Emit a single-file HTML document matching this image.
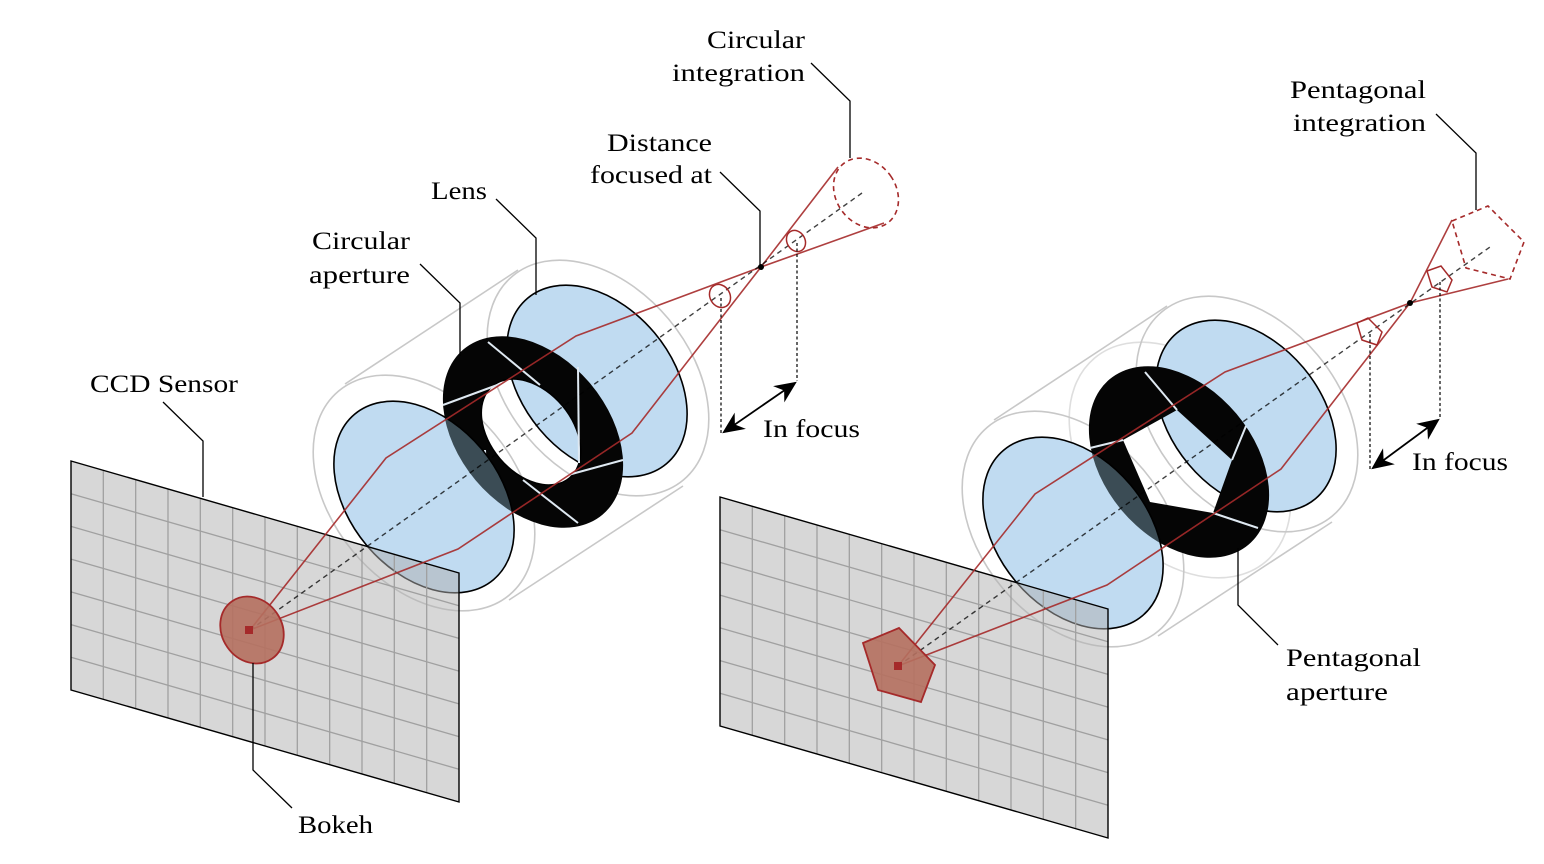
<!DOCTYPE html>
<html><head><meta charset="utf-8"><style>
html,body{margin:0;padding:0;background:#fff;}
svg{display:block;}
text{font-family:"Liberation Serif",serif;font-size:25px;fill:#000;}
</style></head><body>
<svg width="1544" height="864" viewBox="0 0 1544 864" xmlns="http://www.w3.org/2000/svg">
<defs>
<g id="sensor">
  <polygon points="0,0 1,0 1,1 0,1" fill="#b1b1b1" fill-opacity="0.51"/>
  <g stroke="#a0a0a0" stroke-width="1.3">
    <line x1="0.0833" y1="0" x2="0.0833" y2="1" vector-effect="non-scaling-stroke"/>
    <line x1="0.1667" y1="0" x2="0.1667" y2="1" vector-effect="non-scaling-stroke"/>
    <line x1="0.25" y1="0" x2="0.25" y2="1" vector-effect="non-scaling-stroke"/>
    <line x1="0.3333" y1="0" x2="0.3333" y2="1" vector-effect="non-scaling-stroke"/>
    <line x1="0.4167" y1="0" x2="0.4167" y2="1" vector-effect="non-scaling-stroke"/>
    <line x1="0.5" y1="0" x2="0.5" y2="1" vector-effect="non-scaling-stroke"/>
    <line x1="0.5833" y1="0" x2="0.5833" y2="1" vector-effect="non-scaling-stroke"/>
    <line x1="0.6667" y1="0" x2="0.6667" y2="1" vector-effect="non-scaling-stroke"/>
    <line x1="0.75" y1="0" x2="0.75" y2="1" vector-effect="non-scaling-stroke"/>
    <line x1="0.8333" y1="0" x2="0.8333" y2="1" vector-effect="non-scaling-stroke"/>
    <line x1="0.9167" y1="0" x2="0.9167" y2="1" vector-effect="non-scaling-stroke"/>
    <line x1="0" y1="0.1429" x2="1" y2="0.1429" vector-effect="non-scaling-stroke"/>
    <line x1="0" y1="0.2857" x2="1" y2="0.2857" vector-effect="non-scaling-stroke"/>
    <line x1="0" y1="0.4286" x2="1" y2="0.4286" vector-effect="non-scaling-stroke"/>
    <line x1="0" y1="0.5714" x2="1" y2="0.5714" vector-effect="non-scaling-stroke"/>
    <line x1="0" y1="0.7143" x2="1" y2="0.7143" vector-effect="non-scaling-stroke"/>
    <line x1="0" y1="0.8571" x2="1" y2="0.8571" vector-effect="non-scaling-stroke"/>
  </g>
  <polygon points="0,0 1,0 1,1 0,1" fill="none" stroke="#000" stroke-width="1.4" vector-effect="non-scaling-stroke"/>
</g>
<marker id="ah" viewBox="0 0 10 10" refX="9" refY="5" markerWidth="22" markerHeight="22" orient="auto-start-reverse" markerUnits="userSpaceOnUse">
  <path d="M0,0.5 L10,5 L0,9.5 L3,5 z" fill="#000"/>
</marker>
<clipPath id="cfL"><ellipse cx="424" cy="497" rx="75" ry="108" transform="rotate(-40 424 497)"/></clipPath>
<clipPath id="cfR"><ellipse cx="1073" cy="533" rx="75" ry="108" transform="rotate(-40 1073 533)"/></clipPath>
<mask id="mR" maskUnits="userSpaceOnUse" x="0" y="0" width="1544" height="864">
  <rect x="0" y="0" width="1544" height="864" fill="#000"/>
  <ellipse cx="1179" cy="462" rx="75" ry="108" transform="rotate(-40 1179 462)" fill="#fff"/>
  <polygon points="1123,440 1177,410 1232,460 1213,513 1150,502" fill="#000"/>
</mask>
<mask id="mL" maskUnits="userSpaceOnUse" x="0" y="0" width="1544" height="864">
  <rect x="0" y="0" width="1544" height="864" fill="#000"/>
  <ellipse cx="533" cy="432" rx="75" ry="108" transform="rotate(-40 533 432)" fill="#fff"/>
  <ellipse cx="531" cy="432" rx="41" ry="60" transform="rotate(-40 531 432)" fill="#000"/>
</mask>
</defs>

<!-- ============ LEFT ============ -->
<g fill="none" stroke="#c8c8c8" stroke-width="1.6">
  <ellipse cx="598" cy="378" rx="92" ry="133" transform="rotate(-40 598 378)"/>
  <ellipse cx="424" cy="493" rx="92" ry="133" transform="rotate(-40 424 493)"/>
  <line x1="345" y1="384" x2="518" y2="270"/>
  <line x1="509" y1="600" x2="683" y2="486"/>
</g>
<ellipse cx="597" cy="381" rx="75" ry="108" transform="rotate(-40 597 381)" fill="#c0dbf1" stroke="#000" stroke-width="1.6"/>
<rect x="0" y="0" width="1544" height="864" fill="#050505" mask="url(#mL)"/>
<ellipse cx="531" cy="432" rx="41" ry="60" transform="rotate(-40 531 432)" fill="none" stroke="#000" stroke-width="1.6"/>
<g stroke="#dfe9f2" stroke-width="2">
  <line x1="488" y1="342" x2="540" y2="385"/>
  <line x1="578" y1="367" x2="579" y2="463"/>
  <line x1="443" y1="405" x2="500" y2="384"/>
  <line x1="523" y1="480" x2="578" y2="523"/>
  <line x1="568" y1="475" x2="623" y2="460"/>
  <line x1="485" y1="450" x2="487" y2="498"/>
</g>
<ellipse cx="424" cy="497" rx="75" ry="108" transform="rotate(-40 424 497)" fill="#c0dbf1"/>
<g clip-path="url(#cfL)"><rect x="0" y="0" width="1544" height="864" fill="#3b4c55" mask="url(#mL)"/></g>
<ellipse cx="424" cy="497" rx="75" ry="108" transform="rotate(-40 424 497)" fill="none" stroke="#000" stroke-width="1.6"/>
<g transform="matrix(388,112,0,229,71,461)"><use href="#sensor"/></g>
<g fill="none" stroke="#a52a2a" stroke-width="1.6" stroke-opacity="0.9">
  <polyline points="250,630 386,458 576,336 761,267 884,223"/>
  <polyline points="250,630 458,549 632,433 761,267 838,167"/>
</g>
<line x1="250" y1="630" x2="862" y2="193" stroke="#000" stroke-width="1.4" stroke-dasharray="5,4" stroke-opacity="0.75"/>
<ellipse cx="720" cy="296" rx="10" ry="12" transform="rotate(-30 720 296)" fill="none" stroke="#a52a2a" stroke-width="1.5"/>
<ellipse cx="796" cy="241" rx="9" ry="11" transform="rotate(-30 796 241)" fill="none" stroke="#a52a2a" stroke-width="1.5"/>
<ellipse cx="866" cy="193" rx="30" ry="37" transform="rotate(-35 866 193)" fill="none" stroke="#a52a2a" stroke-width="1.6" stroke-dasharray="5,4"/>
<circle cx="761" cy="267" r="3" fill="#000"/>
<g stroke="#000" stroke-width="1.2" stroke-dasharray="3,2.5">
  <line x1="721" y1="298" x2="721" y2="434"/>
  <line x1="797" y1="243" x2="797" y2="381"/>
</g>
<line x1="724" y1="432" x2="795" y2="383" stroke="#000" stroke-width="1.8" marker-start="url(#ah)" marker-end="url(#ah)"/>
<text x="763" y="437" textLength="97" lengthAdjust="spacingAndGlyphs">In focus</text>
<ellipse cx="252" cy="630" rx="30" ry="35" transform="rotate(-35 252 630)" fill="#b5705f" fill-opacity="0.9" stroke="#a52a2a" stroke-width="1.8"/>
<rect x="245" y="626" width="8" height="8" fill="#a52a2a"/>
<g fill="none" stroke="#000" stroke-width="1.3">
  <polyline points="811,63 850,101 850,158"/>
  <polyline points="720,172 760,211 760,267"/>
  <polyline points="496,199 536,238 536,295"/>
  <polyline points="420,264 460,303 460,356"/>
  <polyline points="163,402 203,441 203,497"/>
  <polyline points="253,663 253,770 292,808"/>
</g>
<text x="707" y="48" textLength="98" lengthAdjust="spacingAndGlyphs">Circular</text>
<text x="672" y="81" textLength="133" lengthAdjust="spacingAndGlyphs">integration</text>
<text x="607" y="151" textLength="105" lengthAdjust="spacingAndGlyphs">Distance</text>
<text x="590" y="183" textLength="122" lengthAdjust="spacingAndGlyphs">focused at</text>
<text x="431" y="199" textLength="56" lengthAdjust="spacingAndGlyphs">Lens</text>
<text x="312" y="249" textLength="98" lengthAdjust="spacingAndGlyphs">Circular</text>
<text x="309" y="283" textLength="101" lengthAdjust="spacingAndGlyphs">aperture</text>
<text x="90" y="392" textLength="148" lengthAdjust="spacingAndGlyphs">CCD Sensor</text>
<text x="298" y="833" textLength="75" lengthAdjust="spacingAndGlyphs">Bokeh</text>

<!-- ============ RIGHT ============ -->
<g fill="none" stroke="#c8c8c8" stroke-width="1.6">
  <ellipse cx="1247" cy="414" rx="92" ry="133" transform="rotate(-40 1247 414)"/>
  <ellipse cx="1073" cy="529" rx="92" ry="133" transform="rotate(-40 1073 529)"/>
  <ellipse cx="1180" cy="460" rx="92" ry="133" transform="rotate(-40 1180 460)" stroke-opacity="0.6"/>
  <line x1="994" y1="420" x2="1167" y2="306"/>
  <line x1="1158" y1="636" x2="1332" y2="522"/>
</g>
<ellipse cx="1246" cy="416" rx="75" ry="108" transform="rotate(-40 1246 416)" fill="#c0dbf1" stroke="#000" stroke-width="1.6"/>
<rect x="0" y="0" width="1544" height="864" fill="#050505" mask="url(#mR)"/>
<g stroke="#dfe9f2" stroke-width="2">
  <line x1="1145" y1="372" x2="1177" y2="410"/>
  <line x1="1246" y1="426" x2="1232" y2="460"/>
  <line x1="1090" y1="448" x2="1123" y2="440"/>
  <line x1="1213" y1="513" x2="1258" y2="528"/>
</g>
<ellipse cx="1073" cy="533" rx="75" ry="108" transform="rotate(-40 1073 533)" fill="#c0dbf1"/>
<g clip-path="url(#cfR)"><rect x="0" y="0" width="1544" height="864" fill="#3b4c55" mask="url(#mR)"/></g>
<ellipse cx="1073" cy="533" rx="75" ry="108" transform="rotate(-40 1073 533)" fill="none" stroke="#000" stroke-width="1.6"/>
<g transform="matrix(388,112,0,229,720,497)"><use href="#sensor"/></g>
<g fill="none" stroke="#a52a2a" stroke-width="1.6" stroke-opacity="0.9">
  <polyline points="898,666 1035,494 1225,372 1410,303 1508,279"/>
  <polyline points="898,666 1107,585 1281,469 1410,303 1452,220"/>
</g>
<line x1="898" y1="666" x2="1490" y2="247" stroke="#000" stroke-width="1.4" stroke-dasharray="5,4" stroke-opacity="0.75"/>
<polygon points="1357,323 1368,318 1382,332 1377,345 1362,340" fill="none" stroke="#a52a2a" stroke-width="1.5"/>
<polygon points="1427,271 1441,266 1452,280 1447,292 1432,287" fill="none" stroke="#a52a2a" stroke-width="1.5"/>
<polygon points="1452,221 1488,206 1524,242 1510,279 1466,268" fill="none" stroke="#a52a2a" stroke-width="1.6" stroke-dasharray="5,4"/>
<circle cx="1410" cy="303" r="3" fill="#000"/>
<g stroke="#000" stroke-width="1.2" stroke-dasharray="3,2.5">
  <line x1="1370" y1="334" x2="1370" y2="470"/>
  <line x1="1440" y1="282" x2="1440" y2="418"/>
</g>
<line x1="1373" y1="468" x2="1438" y2="420" stroke="#000" stroke-width="1.8" marker-start="url(#ah)" marker-end="url(#ah)"/>
<text x="1412" y="470" textLength="96" lengthAdjust="spacingAndGlyphs">In focus</text>
<polygon points="863,643 899,628 935,665 921,702 878,690" fill="#b5705f" fill-opacity="0.9" stroke="#a52a2a" stroke-width="1.8"/>
<rect x="894" y="662" width="8" height="8" fill="#a52a2a"/>
<g fill="none" stroke="#000" stroke-width="1.3">
  <polyline points="1436,114 1476,153 1476,210"/>
  <polyline points="1238,548 1238,605 1278,645"/>
</g>
<text x="1290" y="98" textLength="136" lengthAdjust="spacingAndGlyphs">Pentagonal</text>
<text x="1293" y="131" textLength="133" lengthAdjust="spacingAndGlyphs">integration</text>
<text x="1286" y="666" textLength="135" lengthAdjust="spacingAndGlyphs">Pentagonal</text>
<text x="1286" y="700" textLength="102" lengthAdjust="spacingAndGlyphs">aperture</text>
</svg>
</body></html>
